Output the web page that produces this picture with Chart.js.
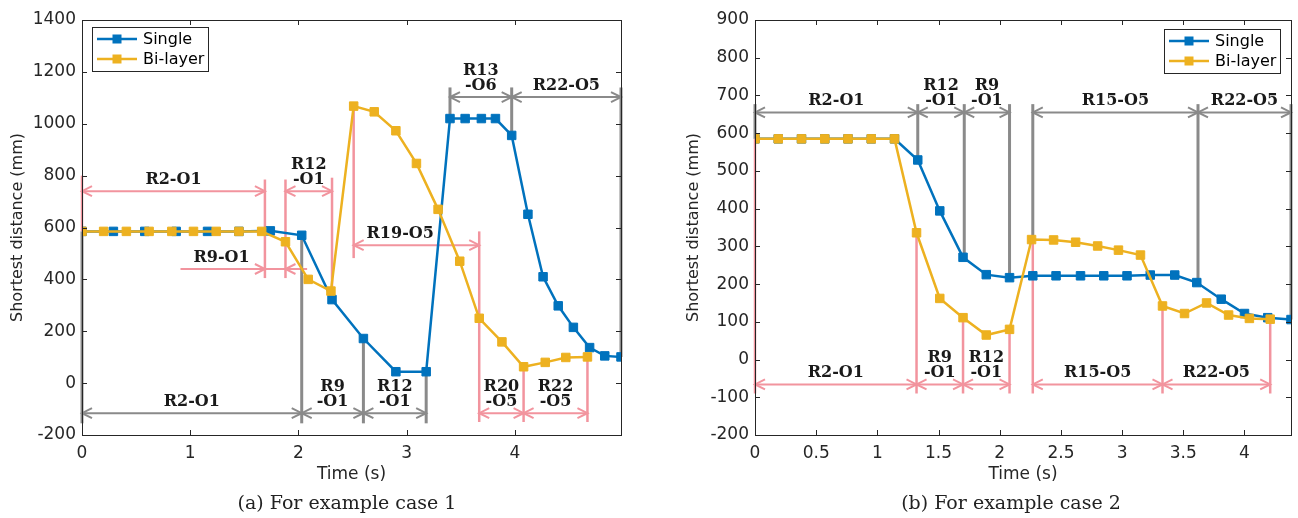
<!DOCTYPE html>
<html>
<head>
<meta charset="utf-8">
<script src="https://cdn.jsdelivr.net/npm/chart.js@4.4.0/dist/chart.umd.min.js"></script>
<style>
  body { margin: 0; background: #fff; width: 1298px; height: 518px; position: relative; overflow: hidden; }
  .panel { position: absolute; top: 0; width: 649px; height: 518px; }
  .cap { position: absolute; top: 491px; font: 19px "DejaVu Serif"; line-height: 23px; color: #222; white-space: nowrap; transform: translateX(-50%); }
</style>
</head>
<body>
<div class="panel" style="left:0"><canvas id="chartA" width="649" height="518"></canvas></div>
<div class="panel" style="left:649px"><canvas id="chartB" width="649" height="518"></canvas></div>
<div class="cap" style="left:347px">(a) For example case 1</div>
<div class="cap" style="left:1011px">(b) For example case 2</div>
<script>
// ---- case 1 ----
var timeSingleA = [0, 0.29, 0.58, 0.87, 1.16, 1.45, 1.74, 2.03, 2.31, 2.60, 2.90, 3.18, 3.40, 3.54, 3.69, 3.82, 3.97, 4.12, 4.26, 4.40, 4.54, 4.69, 4.83, 4.98];
var distSingleA = [585, 585, 585, 585, 585, 585, 587, 570, 322, 172, 44, 44, 1020, 1020, 1020, 1020, 955, 651, 410, 298, 215, 137, 105, 101];
var timeBiA = [0, 0.2, 0.41, 0.62, 0.83, 1.03, 1.24, 1.45, 1.66, 1.88, 2.09, 2.30, 2.51, 2.70, 2.90, 3.09, 3.29, 3.49, 3.67, 3.88, 4.08, 4.28, 4.47, 4.67];
var distBiA = [585, 585, 585, 585, 585, 585, 585, 585, 585, 545, 400, 355, 1068, 1046, 973, 847, 670, 470, 250, 159, 63, 80, 99, 101];

// ---- case 2 ----
var timeSingleB = [0, 0.19, 0.38, 0.57, 0.76, 0.95, 1.14, 1.33, 1.51, 1.70, 1.89, 2.08, 2.27, 2.46, 2.66, 2.85, 3.04, 3.23, 3.43, 3.61, 3.81, 4.00, 4.19, 4.38];
var distSingleB = [585, 585, 585, 585, 585, 585, 585, 529, 394, 271, 225, 217, 222, 222, 222, 222, 222, 224, 224, 204, 160, 122, 111, 106];
var timeBiB = [0, 0.19, 0.38, 0.57, 0.76, 0.95, 1.14, 1.32, 1.51, 1.70, 1.89, 2.08, 2.26, 2.44, 2.62, 2.80, 2.97, 3.15, 3.33, 3.51, 3.69, 3.87, 4.04, 4.21];
var distBiB = [585, 585, 585, 585, 585, 585, 585, 336, 162, 111, 65, 80, 318, 317, 311, 301, 290, 277, 142, 122, 150, 118, 109, 107];

var seriesNames = ['Single', 'Bi-layer'];
var yTicksA = [-200, 1400, 200];
var yTicksB = [-200, 900, 100];

// region markers: [time, from, to]
var pinkLinesA = [[0, 585, 800], [1.69, 405, 785], [1.88, 405, 785], [2.31, 355, 792], [2.51, 1068, 482], [3.67, 585, -150], [4.08, 63, -150], [4.67, 101, -150]];
var grayLinesA = [[0, 585, -155], [2.03, 570, -155], [2.60, 172, -155], [3.18, 44, -155], [3.40, 1020, 1140], [3.97, 955, 1140], [4.98, 1140, 101]];
// spans: [start, end, level, heads, label, labelTime]
var pinkSpansA = [
  [0, 1.69, 740, 'both', ['R2-O1']],
  [1.88, 2.31, 740, 'both', ['R12', '-O1']],
  [0.91, 1.69, 440, 'right', ['R9-O1'], 1.29],
  [1.69, 1.88, 440, '', null],
  [1.88, 2.08, 440, 'left', null],
  [2.51, 3.67, 532, 'both', ['R19-O5'], 2.94],
  [3.67, 4.08, -116, 'both', ['R20', '-O5']],
  [4.08, 4.67, -116, 'both', ['R22', '-O5']]
];
var graySpansA = [
  [0, 2.03, -116, 'both', ['R2-O1']],
  [2.03, 2.60, -116, 'both', ['R9', '-O1']],
  [2.60, 3.18, -116, 'both', ['R12', '-O1']],
  [3.40, 3.97, 1103, 'both', ['R13', '-O6']],
  [3.97, 4.98, 1103, 'both', ['R22-O5']]
];

var grayLinesB = [[0, 585, 677], [1.33, 529, 677], [1.71, 271, 677], [2.08, 218, 677], [2.27, 318, 677], [3.62, 204, 677], [4.38, 106, 677]];
var pinkLinesB = [[0, 585, -90], [1.32, 336, -90], [1.70, 111, -90], [2.08, 80, -90], [2.27, 318, -90], [3.33, 142, -90], [4.21, 107, -90]];
var graySpansB = [
  [0, 1.33, 655, 'both', ['R2-O1']],
  [1.33, 1.71, 655, 'both', ['R12', '-O1']],
  [1.71, 2.08, 655, 'both', ['R9', '-O1']],
  [2.27, 3.62, 655, 'both', ['R15-O5']],
  [3.62, 4.38, 655, 'both', ['R22-O5']]
];
var pinkSpansB = [
  [0, 1.32, -66, 'both', ['R2-O1']],
  [1.32, 1.70, -66, 'both', ['R9', '-O1']],
  [1.70, 2.08, -66, 'both', ['R12', '-O1']],
  [2.27, 3.33, -66, 'both', ['R15-O5']],
  [3.33, 4.21, -66, 'both', ['R22-O5']]
];

var BLUE = '#0072BD', GOLD = '#EDB120', PINK = '#F2949E', GRAY = '#8A8A8A', INK = '#262626';

function pairs(xs, ys) {
  return xs.map(function(x, i) { return {x: x, y: ys[i]}; });
}

function arrowHead(ctx, x, y, dir) {
  ctx.beginPath();
  ctx.moveTo(x - dir * 10, y - 5);
  ctx.lineTo(x, y);
  ctx.lineTo(x - dir * 10, y + 5);
  ctx.stroke();
}

// vertical region bounds and span arrows
var notesPlugin = {
  id: 'notes',
  beforeDatasetsDraw: function(chart, args, opts) {
    var ctx = chart.ctx, xs = chart.scales.x, ys = chart.scales.y;
    ctx.save();
    ctx.lineCap = 'butt';
    opts.groups.forEach(function(g) {
      ctx.strokeStyle = g.color;
      ctx.lineWidth = g.width;
      g.lines.forEach(function(l) {
        var px = xs.getPixelForValue(l[0]);
        ctx.beginPath();
        ctx.moveTo(px, ys.getPixelForValue(l[1]));
        ctx.lineTo(px, ys.getPixelForValue(l[2]));
        ctx.stroke();
      });
      ctx.lineWidth = 2;
      g.spans.forEach(function(s) {
        var x1 = xs.getPixelForValue(s[0]), x2 = xs.getPixelForValue(s[1]), py = ys.getPixelForValue(s[2]);
        ctx.beginPath();
        ctx.moveTo(x1, py);
        ctx.lineTo(x2, py);
        ctx.stroke();
        if (s[3] == 'both' || s[3] == 'left') arrowHead(ctx, x1, py, -1);
        if (s[3] == 'both' || s[3] == 'right') arrowHead(ctx, x2, py, 1);
      });
    });
    ctx.restore();
  },
  afterDatasetsDraw: function(chart, args, opts) {
    var ctx = chart.ctx, xs = chart.scales.x, ys = chart.scales.y;
    ctx.save();
    ctx.font = 'bold 16px "DejaVu Serif"';
    ctx.fillStyle = '#1a1a1a';
    ctx.textAlign = 'center';
    ctx.textBaseline = 'alphabetic';
    opts.groups.forEach(function(g) {
      g.spans.forEach(function(s) {
        if (!s[4]) return;
        var cx = s[5] != null ? xs.getPixelForValue(s[5]) : (xs.getPixelForValue(s[0]) + xs.getPixelForValue(s[1])) / 2;
        var base = ys.getPixelForValue(s[2]) - 7;
        for (var i = s[4].length - 1; i >= 0; i--) {
          ctx.fillText(s[4][i], cx, base - (s[4].length - 1 - i) * 15);
        }
      });
    });
    ctx.restore();
  }
};

// axes box with inward ticks on all four sides
var framePlugin = {
  id: 'frame',
  afterDatasetsDraw: function(chart) {
    var ctx = chart.ctx, a = chart.chartArea, xs = chart.scales.x, ys = chart.scales.y;
    ctx.save();
    ctx.strokeStyle = INK;
    ctx.lineWidth = 1;
    ctx.beginPath();
    xs.ticks.forEach(function(t) {
      var px = Math.round(xs.getPixelForValue(t.value)) + 0.5;
      ctx.moveTo(px, a.bottom); ctx.lineTo(px, a.bottom - 5);
      ctx.moveTo(px, a.top); ctx.lineTo(px, a.top + 5);
    });
    ys.ticks.forEach(function(t) {
      var py = Math.round(ys.getPixelForValue(t.value)) + 0.5;
      ctx.moveTo(a.left, py); ctx.lineTo(a.left + 5, py);
      ctx.moveTo(a.right, py); ctx.lineTo(a.right - 5, py);
    });
    ctx.stroke();
    ctx.strokeRect(Math.round(a.left) + 0.5, Math.round(a.top) + 0.5, Math.round(a.right - a.left), Math.round(a.bottom - a.top));
    ctx.restore();
  }
};

// boxed legend with line + marker samples
var keyPlugin = {
  id: 'key',
  afterDraw: function(chart, args, opts) {
    var ctx = chart.ctx, a = chart.chartArea;
    var w = 116, h = 44;
    var left = opts.side == 'right' ? a.right - opts.dx - w : a.left + opts.dx;
    var top = a.top + opts.dy;
    ctx.save();
    ctx.fillStyle = '#fff';
    ctx.fillRect(left, top, w, h);
    ctx.strokeStyle = INK;
    ctx.lineWidth = 1;
    ctx.strokeRect(Math.round(left) + 0.5, Math.round(top) + 0.5, w, h);
    ctx.font = '16px "DejaVu Sans"';
    ctx.textBaseline = 'middle';
    ctx.textAlign = 'left';
    chart.data.datasets.forEach(function(ds, i) {
      var y = top + 12 + i * 20;
      ctx.strokeStyle = ds.borderColor;
      ctx.lineWidth = 2.5;
      ctx.beginPath();
      ctx.moveTo(left + 5, y);
      ctx.lineTo(left + 45, y);
      ctx.stroke();
      ctx.fillStyle = ds.borderColor;
      ctx.fillRect(left + 25 - 4.5, y - 4.5, 9, 9);
      ctx.fillStyle = '#000';
      ctx.fillText(ds.label, left + 51, y + 1);
    });
    ctx.restore();
  }
};

function numLabel(v) {
  return String(Math.round(v * 100) / 100);
}

function buildChart(id, single, bi, xMax, xStep, yTicks, yWidth, yTitlePad, padRight, groups, keyPos) {
  var tickFont = {family: 'DejaVu Sans', size: 17};
  return new Chart(document.getElementById(id), {
    type: 'line',
    data: {
      datasets: [{
        label: seriesNames[0],
        data: single,
        borderColor: BLUE,
        backgroundColor: BLUE,
        borderWidth: 2.5,
        pointStyle: 'rect',
        pointRadius: 6,
        pointBorderWidth: 1,
        order: 1
      }, {
        label: seriesNames[1],
        data: bi,
        borderColor: GOLD,
        backgroundColor: GOLD,
        borderWidth: 2.5,
        pointStyle: 'rect',
        pointRadius: 6,
        pointBorderWidth: 1,
        order: 0
      }]
    },
    options: {
      responsive: false,
      animation: false,
      layout: {padding: {left: 0, top: 20, right: padRight, bottom: 33}},
      elements: {line: {tension: 0}},
      scales: {
        x: {
          type: 'linear', min: 0, max: xMax,
          grid: {display: false, drawTicks: false},
          border: {display: false},
          ticks: {stepSize: xStep, includeBounds: false, font: tickFont, color: INK, padding: 8, maxRotation: 0, callback: numLabel},
          title: {display: true, text: 'Time (s)', font: {family: 'DejaVu Sans', size: 17}, color: INK, padding: {top: 0, bottom: 0}},
          afterFit: function(s) { s.height = 50; }
        },
        y: {
          min: yTicks[0], max: yTicks[1],
          grid: {display: false, drawTicks: false},
          border: {display: false},
          ticks: {stepSize: yTicks[2], font: tickFont, color: INK, padding: 6, callback: numLabel},
          title: {display: true, text: 'Shortest distance (mm)', font: {family: 'DejaVu Sans', size: 16}, color: INK, padding: {top: yTitlePad, bottom: 0}},
          afterFit: function(s) { s.width = yWidth; }
        }
      },
      plugins: {
        legend: {display: false},
        tooltip: {enabled: false},
        notes: {groups: groups},
        key: keyPos
      }
    },
    plugins: [notesPlugin, framePlugin, keyPlugin]
  });
}

buildChart('chartA', pairs(timeSingleA, distSingleA), pairs(timeBiA, distBiA), 4.98, 1, yTicksA, 82, 8, 28, [
  {color: PINK, width: 2.5, lines: pinkLinesA, spans: pinkSpansA},
  {color: GRAY, width: 3, lines: grayLinesA, spans: graySpansA}
], {side: 'left', dx: 10, dy: 7});

buildChart('chartB', pairs(timeSingleB, distSingleB), pairs(timeBiB, distBiB), 4.38, 0.5, yTicksB, 106, 35, 3, [
  {color: PINK, width: 2.5, lines: pinkLinesB, spans: pinkSpansB},
  {color: GRAY, width: 3, lines: grayLinesB, spans: graySpansB}
], {side: 'right', dx: 11, dy: 9});
</script>
</body>
</html>
